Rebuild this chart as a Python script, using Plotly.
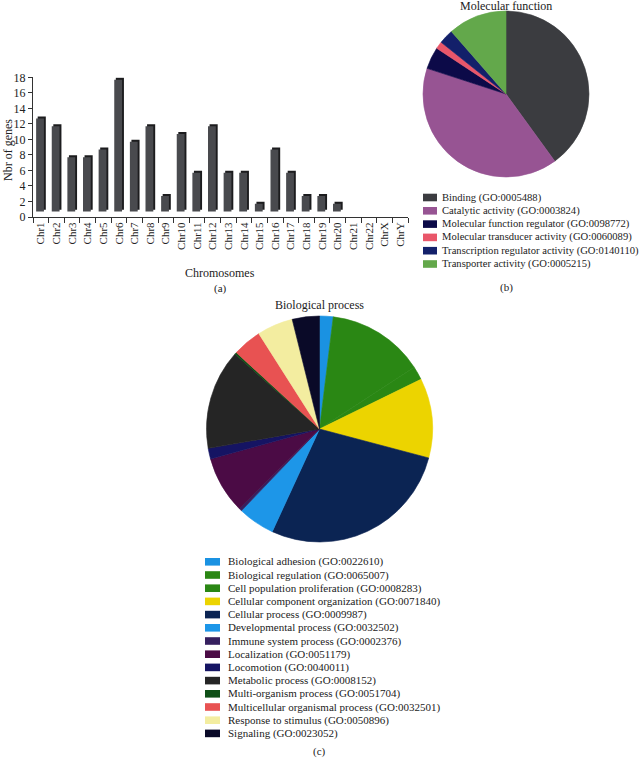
import plotly.graph_objects as go

# ---------------- data ----------------
chromosomes = ["Chr1", "Chr2", "Chr3", "Chr4", "Chr5", "Chr6", "Chr7", "Chr8", "Chr9", "Chr10",
               "Chr11", "Chr12", "Chr13", "Chr14", "Chr15", "Chr16", "Chr17", "Chr18", "Chr19",
               "Chr20", "Chr21", "Chr22", "ChrX", "ChrY"]
gene_counts = [12, 11, 7, 7, 8, 17, 9, 11, 2, 10, 5, 11, 5, 5, 1, 8, 5, 2, 2, 1, 0, 0, 0, 0]
y_ticks = [0, 2, 4, 6, 8, 10, 12, 14, 16, 18]

mf_labels = ["Binding (GO:0005488)", "Catalytic activity (GO:0003824)",
             "Molecular function regulator (GO:0098772)", "Molecular transducer activity (GO:0060089)",
             "Transcription regulator activity (GO:0140110)", "Transporter activity (GO:0005215)"]
mf_values = [28, 28, 3, 1, 2, 8]
mf_colors = ["#3b3c40", "#975493", "#0c0a48", "#e9566a", "#13206a", "#63a84b"]

bp_labels = ["Biological adhesion (GO:0022610)", "Biological regulation (GO:0065007)",
             "Cell population proliferation (GO:0008283)", "Cellular component organization (GO:0071840)",
             "Cellular process (GO:0009987)", "Developmental process (GO:0032502)",
             "Immune system process (GO:0002376)", "Localization (GO:0051179)",
             "Locomotion (GO:0040011)", "Metabolic process (GO:0008152)",
             "Multi-organism process (GO:0051704)", "Multicellular organismal process (GO:0032501)",
             "Response to stimulus (GO:0050896)", "Signaling (GO:0023052)"]
bp_values = [7, 50, 7, 41, 100, 19, 1.5, 29.5, 5.5, 51.5, 1, 15, 18.5, 14]
bp_colors = ["#1a92e2", "#2a8714", "#2a8714", "#ecd400", "#0b2453", "#1d96e8", "#36205f",
             "#4b0b45", "#151463", "#252525", "#0e4f16", "#e85252", "#f3eda0", "#0a0a28"]

FONT = "Liberation Serif"
W, H = 644, 760
BAR_LIFT = 0.7


def px(x):
    return x / W


def py(y):
    return 1 - y / H


fig = go.Figure()

# 3D-ish bars: dark back face then front face
fig.add_trace(go.Bar(x=chromosomes, y=gene_counts, base=BAR_LIFT + 0.25, offset=-0.2, width=0.52,
                     marker=dict(color="#1c1c1e", line=dict(width=0)), xaxis="x", yaxis="y",
                     showlegend=False, hoverinfo="skip"))
fig.add_trace(go.Bar(x=chromosomes, y=gene_counts, base=BAR_LIFT, offset=-0.3, width=0.5,
                     marker=dict(color="#494a4e", line=dict(width=0)), xaxis="x", yaxis="y",
                     showlegend=False))

fig.add_trace(go.Pie(labels=mf_labels, values=mf_values,
                     marker=dict(colors=mf_colors, line=dict(color=mf_colors, width=0.6)),
                     sort=False, direction="clockwise", rotation=0, textinfo="none",
                     domain=dict(x=[px(423), px(589)], y=[py(177), py(11)]), showlegend=False))
fig.add_trace(go.Pie(labels=bp_labels, values=bp_values,
                     marker=dict(colors=bp_colors, line=dict(color=bp_colors, width=0.6)),
                     sort=False, direction="clockwise", rotation=0, textinfo="none",
                     domain=dict(x=[px(206.5), px(432.5)], y=[py(542), py(316)]), showlegend=False))

annotations = []
shapes = []


def text(x, y, s, size=12, angle=0, xanchor="center"):
    annotations.append(dict(x=px(x), y=py(y), xref="paper", yref="paper", text=s, showarrow=False,
                            font=dict(family=FONT, size=size, color="#222"), textangle=angle,
                            xanchor=xanchor, yanchor="middle"))


text(8, 150, "Nbr of genes", 12, -90)
text(220, 273, "Chromosomes", 12)
text(220, 288, "(a)", 11)
text(506, 6, "Molecular function", 12)
text(506, 287, "(b)", 11)
text(319, 305, "Biological process", 12)
text(319, 751, "(c)", 11)

# legend (b)
for i, (lab, col) in enumerate(zip(mf_labels, mf_colors)):
    yc = 197.5 + i * 13.3
    shapes.append(dict(type="rect", xref="paper", yref="paper", x0=px(423), x1=px(437),
                       y0=py(yc + 3.8), y1=py(yc - 3.8), fillcolor=col, line=dict(width=0)))
    text(440, yc, lab, 10.6, xanchor="left")

# legend (c)
for i, (lab, col) in enumerate(zip(bp_labels, bp_colors)):
    yc = 561.8 + i * 13.2
    shapes.append(dict(type="rect", xref="paper", yref="paper", x0=px(205), x1=px(220),
                       y0=py(yc + 3.8), y1=py(yc - 3.8), fillcolor=col, line=dict(width=0)))
    text(226, yc, lab, 11, xanchor="left")

fig.update_layout(
    width=W, height=H, margin=dict(l=0, r=0, t=0, b=0),
    paper_bgcolor="white", plot_bgcolor="white",
    font=dict(family=FONT, size=11, color="#222"),
    barmode="overlay",
    xaxis=dict(domain=[px(33), px(408)], showline=True, linecolor="#333", linewidth=1,
               ticks="outside", ticklen=5, tickcolor="#333", tickson="boundaries",
               tickangle=-90, tickfont=dict(family=FONT, size=11, color="#222"),
               showgrid=False, zeroline=False, anchor="y", automargin=False),
    yaxis=dict(domain=[py(217), py(77.3)], range=[0, 18], tickvals=y_ticks, showline=True,
               linecolor="#333", linewidth=1, ticks="outside", ticklen=4, tickcolor="#333",
               tickfont=dict(family=FONT, size=12, color="#222"), showgrid=False, zeroline=False,
               anchor="x", automargin=False),
    annotations=annotations, shapes=shapes,
)

fig.write_html("out.html", config={"displayModeBar": False},
               post_script="document.body.style.margin='0';document.body.style.padding='0';")
